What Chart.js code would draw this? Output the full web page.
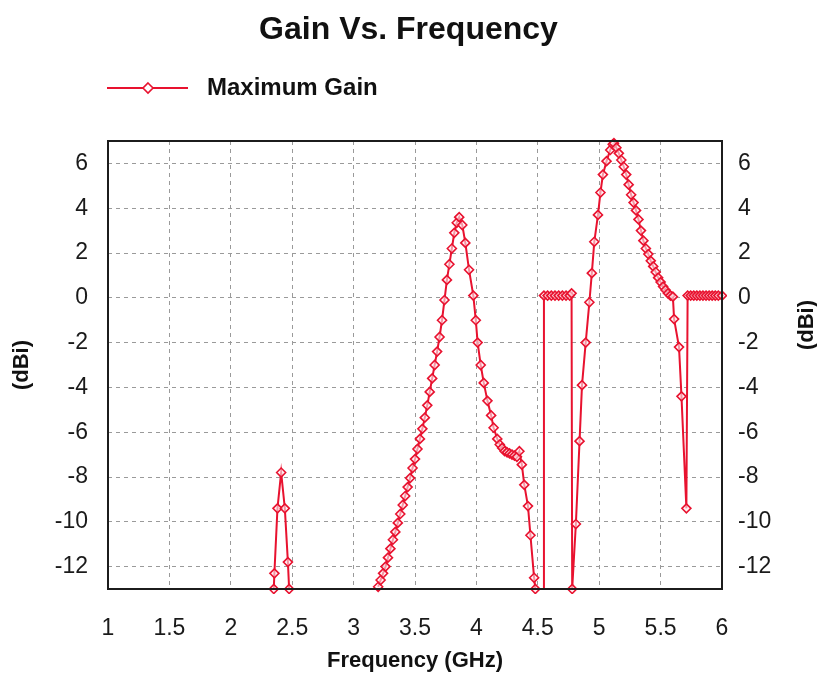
<!DOCTYPE html>
<html lang="en">
<head>
<meta charset="UTF-8">
<title>Gain Vs. Frequency</title>
<script src="https://cdn.jsdelivr.net/npm/chart.js"></script>
<style>
    html, body { margin: 0; padding: 0; background: #fff; }
    #wrap { width: 817px; height: 677px; }
</style>
</head>
<body>
<div id="wrap"><canvas id="gainChart" width="817" height="677"></canvas></div>
<script>
const seriesName = 'Maximum Gain';

// frequency points (GHz); null gain = below the -13 dBi floor, not drawn
const freqGHz = [
    2.35, 2.355, 2.38, 2.41, 2.44, 2.465, 2.475, 2.8,
    3.20, 3.22, 3.24, 3.26, 3.28, 3.30, 3.32, 3.34, 3.36, 3.38,
    3.40, 3.42, 3.44, 3.46, 3.48, 3.50, 3.52, 3.54, 3.56, 3.58,
    3.60, 3.62, 3.64, 3.66, 3.68, 3.70, 3.72, 3.74, 3.76, 3.78,
    3.80, 3.82, 3.84, 3.86, 3.885, 3.91, 3.94, 3.975, 3.995, 4.01,
    4.035, 4.06, 4.09, 4.12, 4.14, 4.17, 4.19, 4.21, 4.23, 4.25,
    4.27, 4.29, 4.31, 4.33, 4.35, 4.37, 4.39, 4.42, 4.44, 4.47,
    4.48, 4.51, 4.545, 4.55, 4.58, 4.61, 4.64, 4.67, 4.70, 4.73,
    4.76, 4.775, 4.78, 4.81, 4.84, 4.86, 4.89, 4.92, 4.94, 4.96,
    4.99, 5.01, 5.03, 5.06, 5.09, 5.11, 5.12, 5.14, 5.16, 5.18,
    5.20, 5.22, 5.24, 5.26, 5.28, 5.30, 5.32, 5.34, 5.36, 5.38,
    5.40, 5.42, 5.44, 5.46, 5.48, 5.50, 5.52, 5.54, 5.56, 5.58,
    5.60, 5.61, 5.65, 5.67, 5.71, 5.72, 5.745, 5.77, 5.795, 5.82,
    5.845, 5.87, 5.895, 5.92, 5.945, 5.97, 6.0
];
const gainDbi = [
    -13, -12.3, -9.4, -7.8, -9.4, -11.8, -13, null,
    -12.9, -12.6, -12.3, -12.0, -11.6, -11.2, -10.8, -10.45, -10.05, -9.65,
    -9.25, -8.85, -8.45, -8.05, -7.6, -7.2, -6.75, -6.3, -5.85, -5.35,
    -4.8, -4.2, -3.6, -3.0, -2.4, -1.75, -1.0, -0.1, 0.8, 1.5,
    2.2, 2.9, 3.35, 3.6, 3.25, 2.45, 1.25, 0.1, -1.0, -2.0,
    -3.0, -3.8, -4.6, -5.25, -5.8, -6.3, -6.55, -6.7, -6.85, -6.9,
    -6.95, -7.0, -7.05, -7.1, -6.85, -7.45, -8.35, -9.3, -10.6, -12.5,
    -13, null, -13, 0.1, 0.1, 0.1, 0.1, 0.1, 0.1, 0.1,
    0.1, 0.2, -13, -10.1, -6.4, -3.9, -2.0, -0.2, 1.1, 2.5,
    3.7, 4.7, 5.5, 6.1, 6.6, 6.85, 6.9, 6.7, 6.45, 6.15,
    5.85, 5.5, 5.05, 4.6, 4.25, 3.9, 3.5, 3.0, 2.55, 2.2,
    1.95, 1.65, 1.4, 1.15, 0.9, 0.7, 0.5, 0.35, 0.2, 0.1,
    0.05, -0.95, -2.2, -4.4, -9.4, 0.1, 0.1, 0.1, 0.1, 0.1,
    0.1, 0.1, 0.1, 0.1, 0.1, 0.1, 0.1
];
// points where the trace only comes up from below the floor (no marker drawn)
const markerless = [4.545];

const xTicks = [1, 1.5, 2, 2.5, 3, 3.5, 4, 4.5, 5, 5.5, 6];
const yTicks = [-12, -10, -8, -6, -4, -2, 0, 2, 4, 6];

const FONT = '"Liberation Sans", Arial, sans-serif';
const RED = '#e8122f';
const GRID = '#9a9a9a';

const points = freqGHz.map((f, i) => ({ x: f, y: gainDbi[i] }));

// frame around plot, line+diamond legend, right axis title
const decorPlugin = {
    id: 'decor',
    afterDraw(chart) {
        const { ctx, chartArea: a } = chart;
        ctx.save();
        ctx.strokeStyle = '#1c1c1c';
        ctx.lineWidth = 2;
        ctx.strokeRect(a.left, a.top, a.right - a.left, a.bottom - a.top);

        // legend
        const ly = 88;
        ctx.strokeStyle = RED;
        ctx.lineWidth = 2;
        ctx.beginPath();
        ctx.moveTo(107, ly);
        ctx.lineTo(188, ly);
        ctx.stroke();
        ctx.fillStyle = '#fff';
        ctx.lineWidth = 1.6;
        ctx.beginPath();
        ctx.moveTo(148, ly - 5);
        ctx.lineTo(153, ly);
        ctx.lineTo(148, ly + 5);
        ctx.lineTo(143, ly);
        ctx.closePath();
        ctx.fill();
        ctx.stroke();
        ctx.fillStyle = '#111';
        ctx.font = 'bold 24px ' + FONT;
        ctx.textBaseline = 'middle';
        ctx.textAlign = 'left';
        ctx.fillText(seriesName, 207, ly);

        // right axis title, reads bottom to top
        ctx.translate(807, 325);
        ctx.rotate(-Math.PI / 2);
        ctx.textAlign = 'center';
        ctx.font = 'bold 22px ' + FONT;
        ctx.fillText('(dBi)', 0, 0);
        ctx.restore();
    }
};

new Chart(document.getElementById('gainChart'), {
    type: 'line',
    data: {
        datasets: [{
            label: seriesName,
            data: points,
            borderColor: RED,
            borderWidth: 2,
            pointStyle: 'rectRot',
            pointRadius: ctx => (ctx.raw && markerless.includes(ctx.raw.x)) ? 0 : 4.5,
            pointBorderColor: RED,
            pointBorderWidth: 1.6,
            pointBackgroundColor: 'rgba(255,235,240,0.6)',
            tension: 0,
            spanGaps: false,
            clip: 5
        }]
    },
    options: {
        responsive: false,
        animation: false,
        devicePixelRatio: 1,
        layout: { padding: 0 },
        plugins: {
            legend: { display: false },
            tooltip: { enabled: false },
            title: {
                display: true,
                text: 'Gain Vs. Frequency',
                color: '#111',
                font: { family: FONT, size: 32, weight: 'bold' },
                padding: { top: 11, bottom: 91.6 }
            }
        },
        scales: {
            x: {
                type: 'linear',
                position: 'bottom',
                min: 1,
                max: 6,
                afterBuildTicks: s => { s.ticks = xTicks.map(v => ({ value: v })); },
                afterFit: s => { s.height = 88; },
                grid: { color: GRID, lineWidth: 1, drawTicks: false },
                border: { display: false, dash: [4, 4] },
                ticks: {
                    color: '#1a1a1a',
                    font: { family: FONT, size: 23 },
                    padding: 26,
                    maxRotation: 0,
                    autoSkip: false,
                    callback: v => String(v)
                },
                title: {
                    display: true,
                    text: 'Frequency (GHz)',
                    color: '#111',
                    font: { family: FONT, size: 22, weight: 'bold' },
                    padding: { top: 0, bottom: 3 }
                }
            },
            y: {
                type: 'linear',
                position: 'left',
                min: -13,
                max: 7,
                afterBuildTicks: s => { s.ticks = yTicks.map(v => ({ value: v })); },
                afterFit: s => { s.width = 108; },
                grid: { color: GRID, lineWidth: 1, drawTicks: false },
                border: { display: false, dash: [4, 4] },
                ticks: {
                    color: '#1a1a1a',
                    font: { family: FONT, size: 23 },
                    padding: 20,
                    callback: v => String(v)
                },
                title: {
                    display: true,
                    text: '(dBi)',
                    color: '#111',
                    font: { family: FONT, size: 22, weight: 'bold' },
                    padding: { top: 9, bottom: 0 }
                }
            },
            y2: {
                type: 'linear',
                position: 'right',
                min: -13,
                max: 7,
                afterBuildTicks: s => { s.ticks = yTicks.map(v => ({ value: v })); },
                afterFit: s => { s.width = 95; },
                grid: { drawOnChartArea: false, drawTicks: false },
                border: { display: false },
                ticks: {
                    color: '#1a1a1a',
                    font: { family: FONT, size: 23 },
                    padding: 16,
                    callback: v => String(v)
                }
            }
        }
    },
    plugins: [decorPlugin]
});
</script>
</body>
</html>
